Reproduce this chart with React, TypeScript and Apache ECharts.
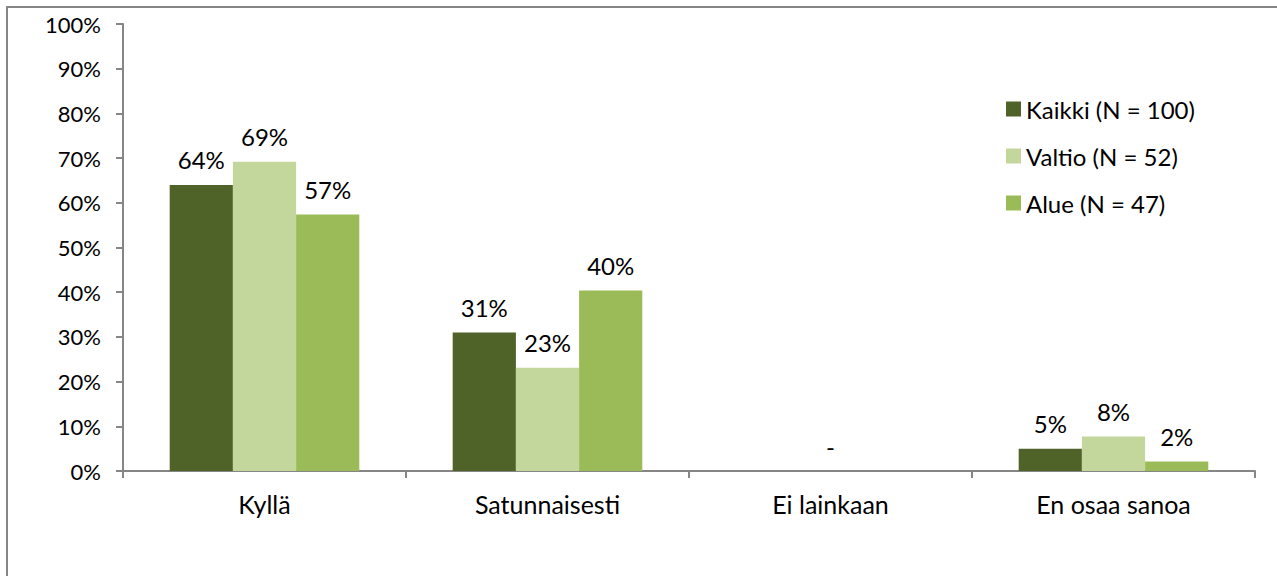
import React, { useEffect, useRef } from "react";
import * as echarts from "echarts";

const categories = ["Kyllä", "Satunnaisesti", "Ei lainkaan", "En osaa sanoa"];
const seriesNames = ["Kaikki (N = 100)", "Valtio (N = 52)", "Alue (N = 47)"];
const kaikki = [64.0, 31.0, null, 5.0];
const valtio = [69.2, 23.1, 0, 7.7];
const alue = [57.4, 40.4, null, 2.1];
const colors = ["#4F6228", "#C3D69B", "#9BBB59"];
const yTicks = [0, 10, 20, 30, 40, 50, 60, 70, 80, 90, 100];

const FONT = "Lato";

export default function App() {
  const ref = useRef<HTMLDivElement>(null);
  useEffect(() => {
    const chart = echarts.init(ref.current!, null, { renderer: "svg" });
    const data = [kaikki, valtio, alue];
    chart.setOption({
      animation: false,
      textStyle: { fontFamily: FONT, color: "#000" },
      grid: { left: 123, right: 22, top: 24, bottom: 105 },
      legend: {
        orient: "vertical",
        left: 1001,
        top: 92,
        itemWidth: 15,
        itemHeight: 15,
        itemGap: 23,
        icon: "rect",
        textStyle: { fontFamily: FONT, fontSize: 24, color: "#000" },
        data: seriesNames,
      },
      xAxis: {
        type: "category",
        data: categories,
        axisLine: { lineStyle: { color: "#868686", width: 2 } },
        axisTick: { show: true, length: 7, lineStyle: { color: "#868686", width: 2 } },
        axisLabel: { fontFamily: FONT, fontSize: 25, color: "#000", margin: 20 },
      },
      yAxis: {
        type: "value",
        min: yTicks[0],
        max: yTicks[yTicks.length - 1],
        interval: 10,
        axisLine: { show: true, lineStyle: { color: "#868686", width: 2 } },
        axisTick: { show: true, length: 7, lineStyle: { color: "#868686", width: 2 } },
        splitLine: { show: false },
        axisLabel: {
          fontFamily: FONT,
          fontSize: 22,
          color: "#000",
          margin: 22,
          formatter: (v: number) => `${v}%`,
        },
      },
      series: seriesNames.map((name, i) => ({
        name,
        type: "bar",
        data: data[i],
        barGap: "0%",
        barCategoryGap: "33%",
        itemStyle: { color: colors[i] },
        label: {
          show: true,
          position: "top",
          distance: 13,
          fontFamily: FONT,
          fontSize: 24,
          color: "#000",
          formatter: (p: any) =>
            p.value === 0 ? "-" : `${Math.round(p.value)}%`,
        },
      })),
      graphic: [
        {
          type: "rect",
          shape: { x: 7, y: 7, width: 1300, height: 620 },
          style: { fill: "none", stroke: "#868686", lineWidth: 2 },
          silent: true,
        },
      ],
    });
    return () => chart.dispose();
  }, []);
  return (
    <div
      ref={ref}
      style={{ position: "absolute", left: 0, top: 0, width: 1277, height: 576 }}
    />
  );
}
